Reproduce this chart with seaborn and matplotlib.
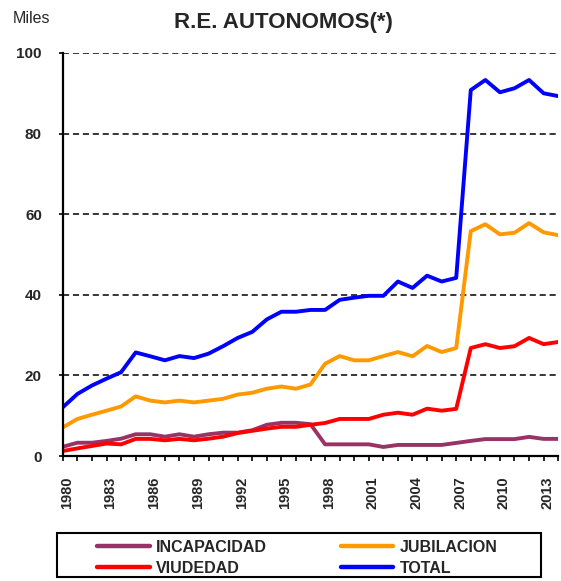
import matplotlib
matplotlib.use("Agg")
import matplotlib.pyplot as plt
import seaborn as sns
import pandas as pd
import numpy as np
from matplotlib.lines import Line2D
from matplotlib.patches import Rectangle
from matplotlib.transforms import ScaledTranslation

years = list(range(1980, 2015))
incapacidad = [2.3, 3.3, 3.3, 3.75, 4.3, 5.4, 5.4, 4.8, 5.4, 4.8, 5.4, 5.8, 5.8, 6.4, 7.75, 8.25, 8.25, 7.9,
               2.9, 2.9, 2.9, 2.9, 2.25, 2.75, 2.75, 2.75, 2.75, 3.25, 3.75, 4.2, 4.2, 4.2, 4.75, 4.25, 4.25]
jubilacion = [7.1, 9.2, 10.25, 11.25, 12.3, 14.8, 13.75, 13.3, 13.75, 13.3, 13.75, 14.2, 15.25, 15.7, 16.7, 17.25,
              16.7, 17.75, 22.9, 24.8, 23.75, 23.75, 24.8, 25.8, 24.75, 27.3, 25.8, 26.8, 55.8, 57.5, 55.0, 55.4,
              57.8, 55.5, 54.8]
viudedad = [1.25, 1.9, 2.5, 3.1, 2.9, 4.25, 4.25, 3.9, 4.25, 3.9, 4.3, 4.8, 5.7, 6.25, 6.8, 7.25, 7.25, 7.75, 8.2,
            9.2, 9.2, 9.2, 10.25, 10.75, 10.25, 11.75, 11.25, 11.7, 26.8, 27.75, 26.8, 27.25, 29.3, 27.75, 28.3]
total = [12.1, 15.4, 17.5, 19.2, 20.8, 25.7, 24.75, 23.75, 24.8, 24.3, 25.4, 27.25, 29.3, 30.8, 33.9, 35.8, 35.8,
         36.25, 36.25, 38.75, 39.3, 39.75, 39.75, 43.3, 41.7, 44.75, 43.3, 44.2, 90.8, 93.3, 90.25, 91.25, 93.3,
         90.0, 89.3]
series_names = ["INCAPACIDAD", "JUBILACION", "VIUDEDAD", "TOTAL"]
colors = ["#993366", "#FF9900", "#FF0000", "#0000FF"]
y_ticks = [0, 20, 40, 60, 80, 100]
x_label_years = list(range(1980, 2014, 3))

df = pd.DataFrame({"year": years, "INCAPACIDAD": incapacidad, "JUBILACION": jubilacion,
                   "VIUDEDAD": viudedad, "TOTAL": total})
long = df.melt(id_vars="year", var_name="serie", value_name="valor")

sns.set_style("white")
plt.rcParams['font.family'] = ['Liberation Sans', 'DejaVu Sans']

fig = plt.figure(figsize=(5.61, 5.81), dpi=100)
ax = fig.add_axes([0.112, 0.2151, 0.883, 0.6937])

sns.lineplot(data=long, x="year", y="valor", hue="serie", hue_order=series_names,
             palette=dict(zip(series_names, colors)), linewidth=2.8, ax=ax, legend=False)

ax.set_xlim(1980, 2014)
ax.set_ylim(0, 100)
ax.set_yticks(y_ticks)
ax.set_xticks(x_label_years)
ax.set_xticks(years, minor=True)
ax.set_xticklabels([str(y) for y in x_label_years], rotation=90, fontweight="bold", fontsize=10.5)
ax.set_yticklabels([str(v) for v in y_ticks], fontweight="bold", fontsize=11)
ax.tick_params(axis="x", which="both", direction="out", length=3.5, width=1.2, color="black", bottom=True, pad=11)
ax.tick_params(axis="y", direction="out", length=3, width=1.2, color="black", left=True, pad=12)
shift = ScaledTranslation(4 / 100, 0, fig.dpi_scale_trans)
for lab in ax.get_xticklabels():
    lab.set_transform(lab.get_transform() + shift)
for y in y_ticks[1:]:
    ax.axhline(y, color="black", linestyle=(0, (4, 2.5)), linewidth=1.1, zorder=0.5)
for s in ["top", "right"]:
    ax.spines[s].set_visible(False)
for s in ["left", "bottom"]:
    ax.spines[s].set_color("black")
    ax.spines[s].set_linewidth(1.6)
ax.set_xlabel("")
ax.set_ylabel("")

fig.text(0.506, 0.962, "R.E. AUTONOMOS(*)", ha="center", va="center", fontsize=16, fontweight="bold")
fig.text(0.023, 0.969, "Miles", ha="left", va="center", fontsize=11.5)

handles = [Line2D([0], [0], color=c, linewidth=3.2) for c in colors]
order = [0, 2, 1, 3]
leg = fig.legend([handles[i] for i in order], [series_names[i] for i in order],
                 loc="upper left", bbox_to_anchor=(97 / 561, 1 - 540 / 581), ncol=2, frameon=False,
                 prop={"weight": "bold", "size": 11.5}, handlelength=3.3,
                 columnspacing=4.6, labelspacing=0.35, borderpad=0, borderaxespad=0, handletextpad=0.4)
fig.patches.append(Rectangle((57 / 561, 1 - 577 / 581), (541 - 57) / 561, 44 / 581,
                             transform=fig.transFigure, fill=False, edgecolor="black", linewidth=1.5))

fig.savefig("out.png", dpi=100)
